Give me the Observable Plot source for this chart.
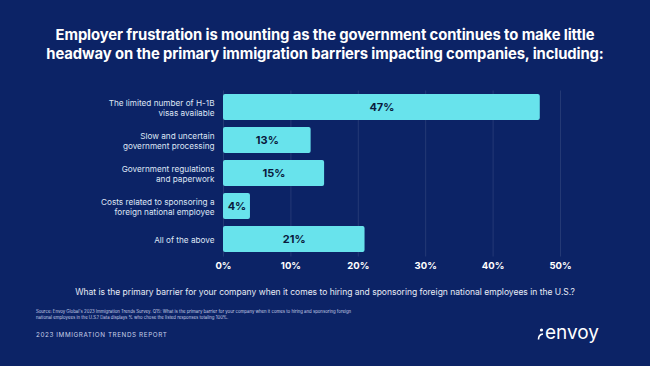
<!DOCTYPE html>
<html><head><meta charset="utf-8">
<script src="https://cdn.jsdelivr.net/npm/d3@7"></script>
<script src="https://cdn.jsdelivr.net/npm/@observablehq/plot@0.6"></script>
<style>
html,body{margin:0;padding:0;}
body{width:650px;height:366px;background:#0c2366;position:relative;overflow:hidden;font-family:Inter,"Open Sans",sans-serif;color:#fff;}
#title{position:absolute;top:26px;left:0;width:650px;text-align:center;font-weight:700;font-size:14.8px;line-height:18.5px;letter-spacing:-0.1px;}
#chart{position:absolute;top:85px;left:0;}
#question{position:absolute;top:287px;left:0;width:650px;text-align:center;white-space:nowrap;font-size:8.5px;color:#e8ecf6;}
#source{position:absolute;top:309px;left:36px;width:330px;font-size:4.3px;line-height:6px;color:#c9d1e8;}
#report{position:absolute;top:331px;left:36px;font-size:6.3px;letter-spacing:0.6px;color:#c9d1e8;}
#logo{position:absolute;top:321px;left:537px;font-size:19px;font-weight:400;color:#fff;display:flex;align-items:center;}
#logo svg{margin-right:1px;margin-top:2px;}
</style></head>
<body>
<div id="title">Employer frustration is mounting as the government continues to make little<br>headway on the primary immigration barriers impacting companies, including:</div>
<div id="chart"></div>
<div id="question">What is the primary barrier for your company when it comes to hiring and sponsoring foreign national employees in the U.S.?</div>
<div id="source">Source: Envoy Global's 2023 Immigration Trends Survey. Q15: What is the primary barrier for your company when it comes to hiring and sponsoring foreign national employees in the U.S.? Data displays % who chose the listed responses totaling 100%.</div>
<div id="report">2023 IMMIGRATION TRENDS REPORT</div>
<div id="logo"><svg width="7" height="12" viewBox="0 0 7 12"><circle cx="4.5" cy="2" r="1.6" fill="#fff"/><path d="M6 6 Q1.5 6.5 1.5 11.5" stroke="#fff" stroke-width="1.6" fill="none"/></svg><span>envoy</span></div>
<script>
const categories = [
  "The limited number of H-1B\nvisas available",
  "Slow and uncertain\ngovernment processing",
  "Government regulations\nand paperwork",
  "Costs related to sponsoring a\nforeign national employee",
  "All of the above"
];
const values = [47, 13, 15, 4, 21];
const xTicks = [0, 10, 20, 30, 40, 50];
const data = categories.map((c, i) => ({category: c, value: values[i]}));

const chart = Plot.plot({
  width: 650,
  height: 192,
  marginLeft: 223,
  marginRight: 90,
  marginTop: 5.5,
  marginBottom: 20.5,
  style: {background: "transparent", color: "#fff", fontFamily: "Inter, sans-serif"},
  x: {domain: [0, 50], axis: null},
  y: {domain: categories, axis: null, paddingInner: 0.21, paddingOuter: 0.105},
  marks: [
    Plot.ruleX(xTicks, {x: d => d, stroke: "#ffffff", strokeOpacity: 0.1, strokeWidth: 1}),
    Plot.barX(data, {x: "value", y: "category", fill: "#68e3ec", rx: 2}),
    Plot.text(data, {x: d => d.value / 2, y: "category", text: d => d.value + "%", fill: "#0a1a3c", fontWeight: 700, fontSize: 11}),
    Plot.text(data, {x: 0, y: "category", text: "category", textAnchor: "end", dx: -9, fill: "#dfe6f5", fontSize: 8.2, lineHeight: 1.32}),
    Plot.text(xTicks, {x: d => d, frameAnchor: "bottom", lineAnchor: "middle", dy: 9, text: d => d + "%", fill: "#ffffff", fontWeight: 700, fontSize: 9.5})
  ]
});
document.getElementById("chart").appendChild(chart);
</script>
</body></html>
